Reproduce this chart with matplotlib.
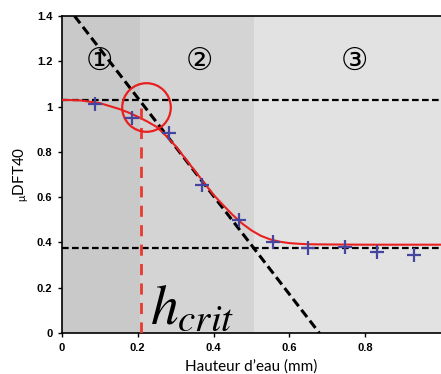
import matplotlib
matplotlib.use("Agg")
import matplotlib.pyplot as plt

# measured points (blue crosses)
h_meas = [0.087, 0.185, 0.283, 0.370, 0.466, 0.556, 0.650, 0.746, 0.832, 0.929]
mu_meas = [1.01, 0.95, 0.885, 0.655, 0.497, 0.403, 0.375, 0.382, 0.356, 0.346]

# fitted curve (red)
h_fit = [0.0, 0.05, 0.10, 0.15, 0.175, 0.20, 0.225, 0.25, 0.275, 0.30, 0.35,
         0.40, 0.425, 0.45, 0.475, 0.50, 0.525, 0.55, 0.575, 0.60, 0.625,
         0.65, 0.70, 0.80, 0.90, 1.0]
mu_fit = [1.03, 1.027, 1.015, 0.99, 0.974, 0.955, 0.934, 0.91, 0.87, 0.825, 0.717,
          0.61, 0.565, 0.522, 0.484, 0.453, 0.429, 0.413, 0.403, 0.397, 0.394,
          0.392, 0.391, 0.39, 0.39, 0.39]

# asymptotes
mu_high = 1.03
mu_low = 0.377
slope_h = [0.033, 0.679]
slope_mu = [1.4, 0.0]
h_crit = 0.208

# zones
zone_edges = [0.0, 0.205, 0.507, 1.0]
zone_colors = ["#c9c9c9", "#d4d4d4", "#e2e2e2"]
zone_labels = ["\u2460", "\u2461", "\u2462"]
zone_label_x = [0.10, 0.363, 0.771]
zone_label_y = 1.198

plt.rcParams["mathtext.fontset"] = "stix"

fig = plt.figure(figsize=(4.41, 3.74), dpi=100)
ax = fig.add_axes([62 / 441, 1 - 333 / 374, 1 - 62 / 441, (333 - 16) / 374])

for i in range(3):
    ax.axvspan(zone_edges[i], zone_edges[i + 1], color=zone_colors[i], lw=0, zorder=0)
    ax.text(zone_label_x[i], zone_label_y, zone_labels[i], fontsize=22,
            family=["DejaVu Sans", "Noto Sans CJK JP"], ha="center", va="center", zorder=3)

ax.axhline(mu_high, color="black", ls=(0, (3, 1.5)), lw=1.6, zorder=2)
ax.axhline(mu_low, color="black", ls=(0, (3, 1.5)), lw=1.6, zorder=2)
ax.plot(slope_h, slope_mu, color="black", ls=(0, (3, 1.5)), lw=2.2, zorder=2)

ax.plot(h_fit, mu_fit, color="#e82020", lw=1.5, zorder=3)
ax.plot([h_crit, h_crit], [0, mu_high], color="#e83a2e", ls=(0, (4, 3)), lw=2, zorder=3)
ax.plot([0.221], [1.0], marker="o", ms=35, mfc="none", mec="#e82020", mew=1.6, zorder=4)

ax.plot(h_meas, mu_meas, ls="none", marker="+", ms=10, mew=1.6, color="#4545a0", zorder=5)

ax.text(0.232, 0.044, r"$h_{crit}$", fontsize=40, ha="left", va="baseline", zorder=5)

ax.set_xlim(0, 1.0)
ax.set_ylim(0, 1.4)
ax.set_xticks([0, 0.2, 0.4, 0.6, 0.8])
ax.set_xticklabels(["0", "0.2", "0.4", "0.6", "0.8"])
ax.set_yticks([0, 0.2, 0.4, 0.6, 0.8, 1.0, 1.2, 1.4])
ax.set_yticklabels(["0", "0.2", "0.4", "0.6", "0.8", "1", "1.2", "1.4"])
for lab in ax.get_xticklabels() + ax.get_yticklabels():
    lab.set_family("Liberation Sans")
    lab.set_fontweight("bold")
    lab.set_fontsize(8)
ax.tick_params(length=3, width=1, pad=4)
ax.spines["right"].set_visible(False)
for s in ["left", "bottom", "top"]:
    ax.spines[s].set_linewidth(1.2)

ax.set_xlabel("Hauteur d\u2019eau (mm)", family="Lato", fontsize=11, labelpad=5)
ax.set_ylabel(r"$\mathregular{_{\mu}}$DFT40", family="Lato", fontsize=11, labelpad=4)

fig.savefig("out.png", dpi=100)
